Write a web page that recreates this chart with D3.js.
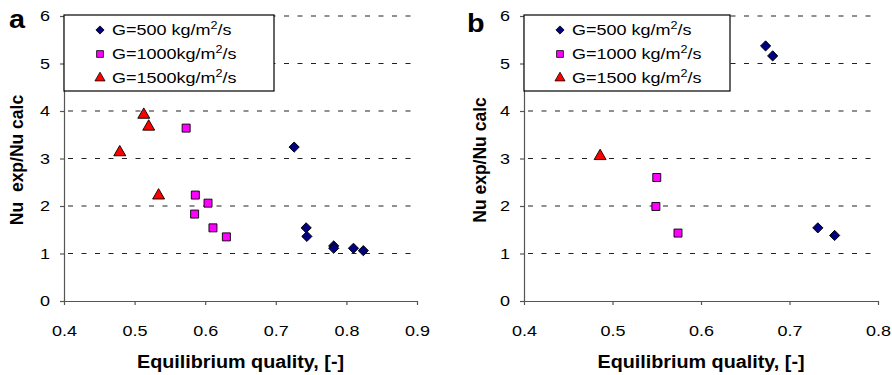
<!DOCTYPE html>
<html>
<head>
<meta charset="utf-8">
<script src="https://cdn.jsdelivr.net/npm/d3@7"></script>
<style>
  body { margin: 0; background: #fff; }
  svg text { font-family: "Liberation Sans", Arial, sans-serif; fill: #000; }
  .axis path, .axis line { stroke: #555; stroke-width: 1.2; }
  .axis text { font-size: 15px; }
</style>
</head>
<body>
<svg id="chart" width="892" height="375"></svg>
<script>
// panel a
var aG500x = [0.726, 0.743, 0.744, 0.782, 0.782, 0.810, 0.824];
var aG500y = [3.24, 1.54, 1.36, 1.16, 1.11, 1.11, 1.06];
var aG1000x = [0.573, 0.586, 0.604, 0.585, 0.611, 0.630];
var aG1000y = [3.64, 2.23, 2.06, 1.83, 1.54, 1.35];
var aG1500x = [0.513, 0.520, 0.479, 0.534];
var aG1500y = [3.92, 3.67, 3.13, 2.22];
var aXTicks = [0.4, 0.5, 0.6, 0.7, 0.8, 0.9];

// panel b
var bG500x = [0.673, 0.681, 0.732, 0.751];
var bG500y = [5.37, 5.16, 1.54, 1.38];
var bG1000x = [0.550, 0.549, 0.574];
var bG1000y = [2.60, 1.99, 1.43];
var bG1500x = [0.486];
var bG1500y = [3.05];
var bXTicks = [0.4, 0.5, 0.6, 0.7, 0.8];

var yTicks = [0, 1, 2, 3, 4, 5, 6];
var seriesNames = ["G=500", "G=1000", "G=1500"];
var seriesColors = ["#000080", "#ff00ff", "#ff0000"];
var seriesShapes = [d3.symbolSquare, d3.symbolSquare, d3.symbolTriangle];
var seriesRotate = [45, 0, 0];
var markSizes = [52, 64, 62];
var legendSizes = [34, 46, 44];

var sx = 1.2; // the reference text is a bit wider than Arial

var svg = d3.select("#chart");

function zip(xs, ys) {
	return xs.map(function(x, i) { return { x: x, y: ys[i] }; });
}

function panel(opt) {
	var x = d3.scaleLinear().domain([opt.xTicks[0], opt.xTicks[opt.xTicks.length - 1]]).range([opt.left, opt.right]);
	var y = d3.scaleLinear().domain([0, 6]).range([301, 16]);
	var g = svg.append("g");

	// dashed grid
	g.selectAll(".grid")
		.data(yTicks.slice(1))
		.enter().append("line")
		.attr("x1", opt.left + 4).attr("x2", opt.right)
		.attr("y1", function(d) { return y(d); })
		.attr("y2", function(d) { return y(d); })
		.attr("stroke", "#222")
		.attr("stroke-width", 1.2)
		.attr("stroke-dasharray", "5,8.5");

	g.append("g")
		.attr("class", "axis")
		.attr("transform", "translate(0," + y(0) + ")")
		.call(d3.axisBottom(x).tickValues(opt.xTicks).tickSize(4).tickSizeOuter(0)
			.tickPadding(20).tickFormat(d3.format(".1f")))
		.call(function(s) {
			s.selectAll("text").attr("transform", "scale(" + sx + ",1)");
		});

	g.append("g")
		.attr("class", "axis")
		.attr("transform", "translate(" + opt.left + ",0)")
		.call(d3.axisLeft(y).tickValues(yTicks).tickSize(4).tickSizeOuter(0).tickFormat(d3.format("d")))
		.call(function(s) {
			s.selectAll("text").attr("x", -14 / sx).attr("transform", "scale(" + sx + ",1)");
		});

	// markers
	opt.series.forEach(function(s, i) {
		g.selectAll(".m" + i)
			.data(s)
			.enter().append("path")
			.attr("d", d3.symbol().type(seriesShapes[i]).size(markSizes[i]))
			.attr("transform", function(d) {
				return "translate(" + x(d.x) + "," + y(d.y) + ") rotate(" + seriesRotate[i] + ")";
			})
			.attr("fill", seriesColors[i])
			.attr("stroke", "#000")
			.attr("stroke-width", 0.9);
	});

	// legend
	var lg = g.append("g");
	lg.append("rect")
		.attr("x", opt.left).attr("y", 15)
		.attr("width", opt.legendW).attr("height", 76)
		.attr("fill", "#fff").attr("stroke", "#000").attr("stroke-width", 1.2);
	seriesNames.forEach(function(n, i) {
		var base = 35 + i * 24;
		lg.append("path")
			.attr("d", d3.symbol().type(seriesShapes[i]).size(legendSizes[i]))
			.attr("transform", "translate(" + (opt.left + 36) + "," + (base - 5) + ") rotate(" + seriesRotate[i] + ")")
			.attr("fill", seriesColors[i]).attr("stroke", "#000").attr("stroke-width", 0.8);
		var t = lg.append("text")
			.attr("transform", "translate(" + (opt.left + 48) + "," + base + ") scale(" + sx + ",1)")
			.attr("font-size", 15)
			.attr("xml:space", "preserve");
		t.append("tspan").text(n + (opt.tight && i > 0 ? "" : " ") + "kg/m");
		t.append("tspan").attr("font-size", 10.5).attr("dy", -6).text("2");
		t.append("tspan").attr("dy", 6).text("/s");
	});

	// titles
	g.append("text")
		.attr("transform", "translate(" + ((opt.left + opt.right) / 2) + ",368) scale(1.13,1)")
		.attr("text-anchor", "middle")
		.attr("font-weight", "bold").attr("font-size", 17.5)
		.text("Equilibrium quality, [-]");

	g.append("text")
		.attr("transform", "translate(" + opt.ylabX + ",160) rotate(-90)")
		.attr("text-anchor", "middle")
		.attr("font-weight", "bold").attr("font-size", 17.5)
		.attr("xml:space", "preserve")
		.text(opt.ylab);

	g.append("text")
		.attr("transform", "translate(" + opt.letterX + "," + opt.letterY + ") scale(1.15,1)")
		.attr("font-weight", "bold").attr("font-size", 25)
		.text(opt.letter);
}

panel({
	left: 64, right: 417, xTicks: aXTicks, legendW: 210, tight: true,
	ylab: "Nu  exp/Nu calc", ylabX: 23, letter: "a", letterX: 9, letterY: 28,
	series: [zip(aG500x, aG500y), zip(aG1000x, aG1000y), zip(aG1500x, aG1500y)]
});

panel({
	left: 524, right: 878, xTicks: bXTicks, legendW: 206, tight: false,
	ylab: "Nu exp/Nu calc", ylabX: 486, letter: "b", letterX: 467, letterY: 32,
	series: [zip(bG500x, bG500y), zip(bG1000x, bG1000y), zip(bG1500x, bG1500y)]
});
</script>
</body>
</html>
